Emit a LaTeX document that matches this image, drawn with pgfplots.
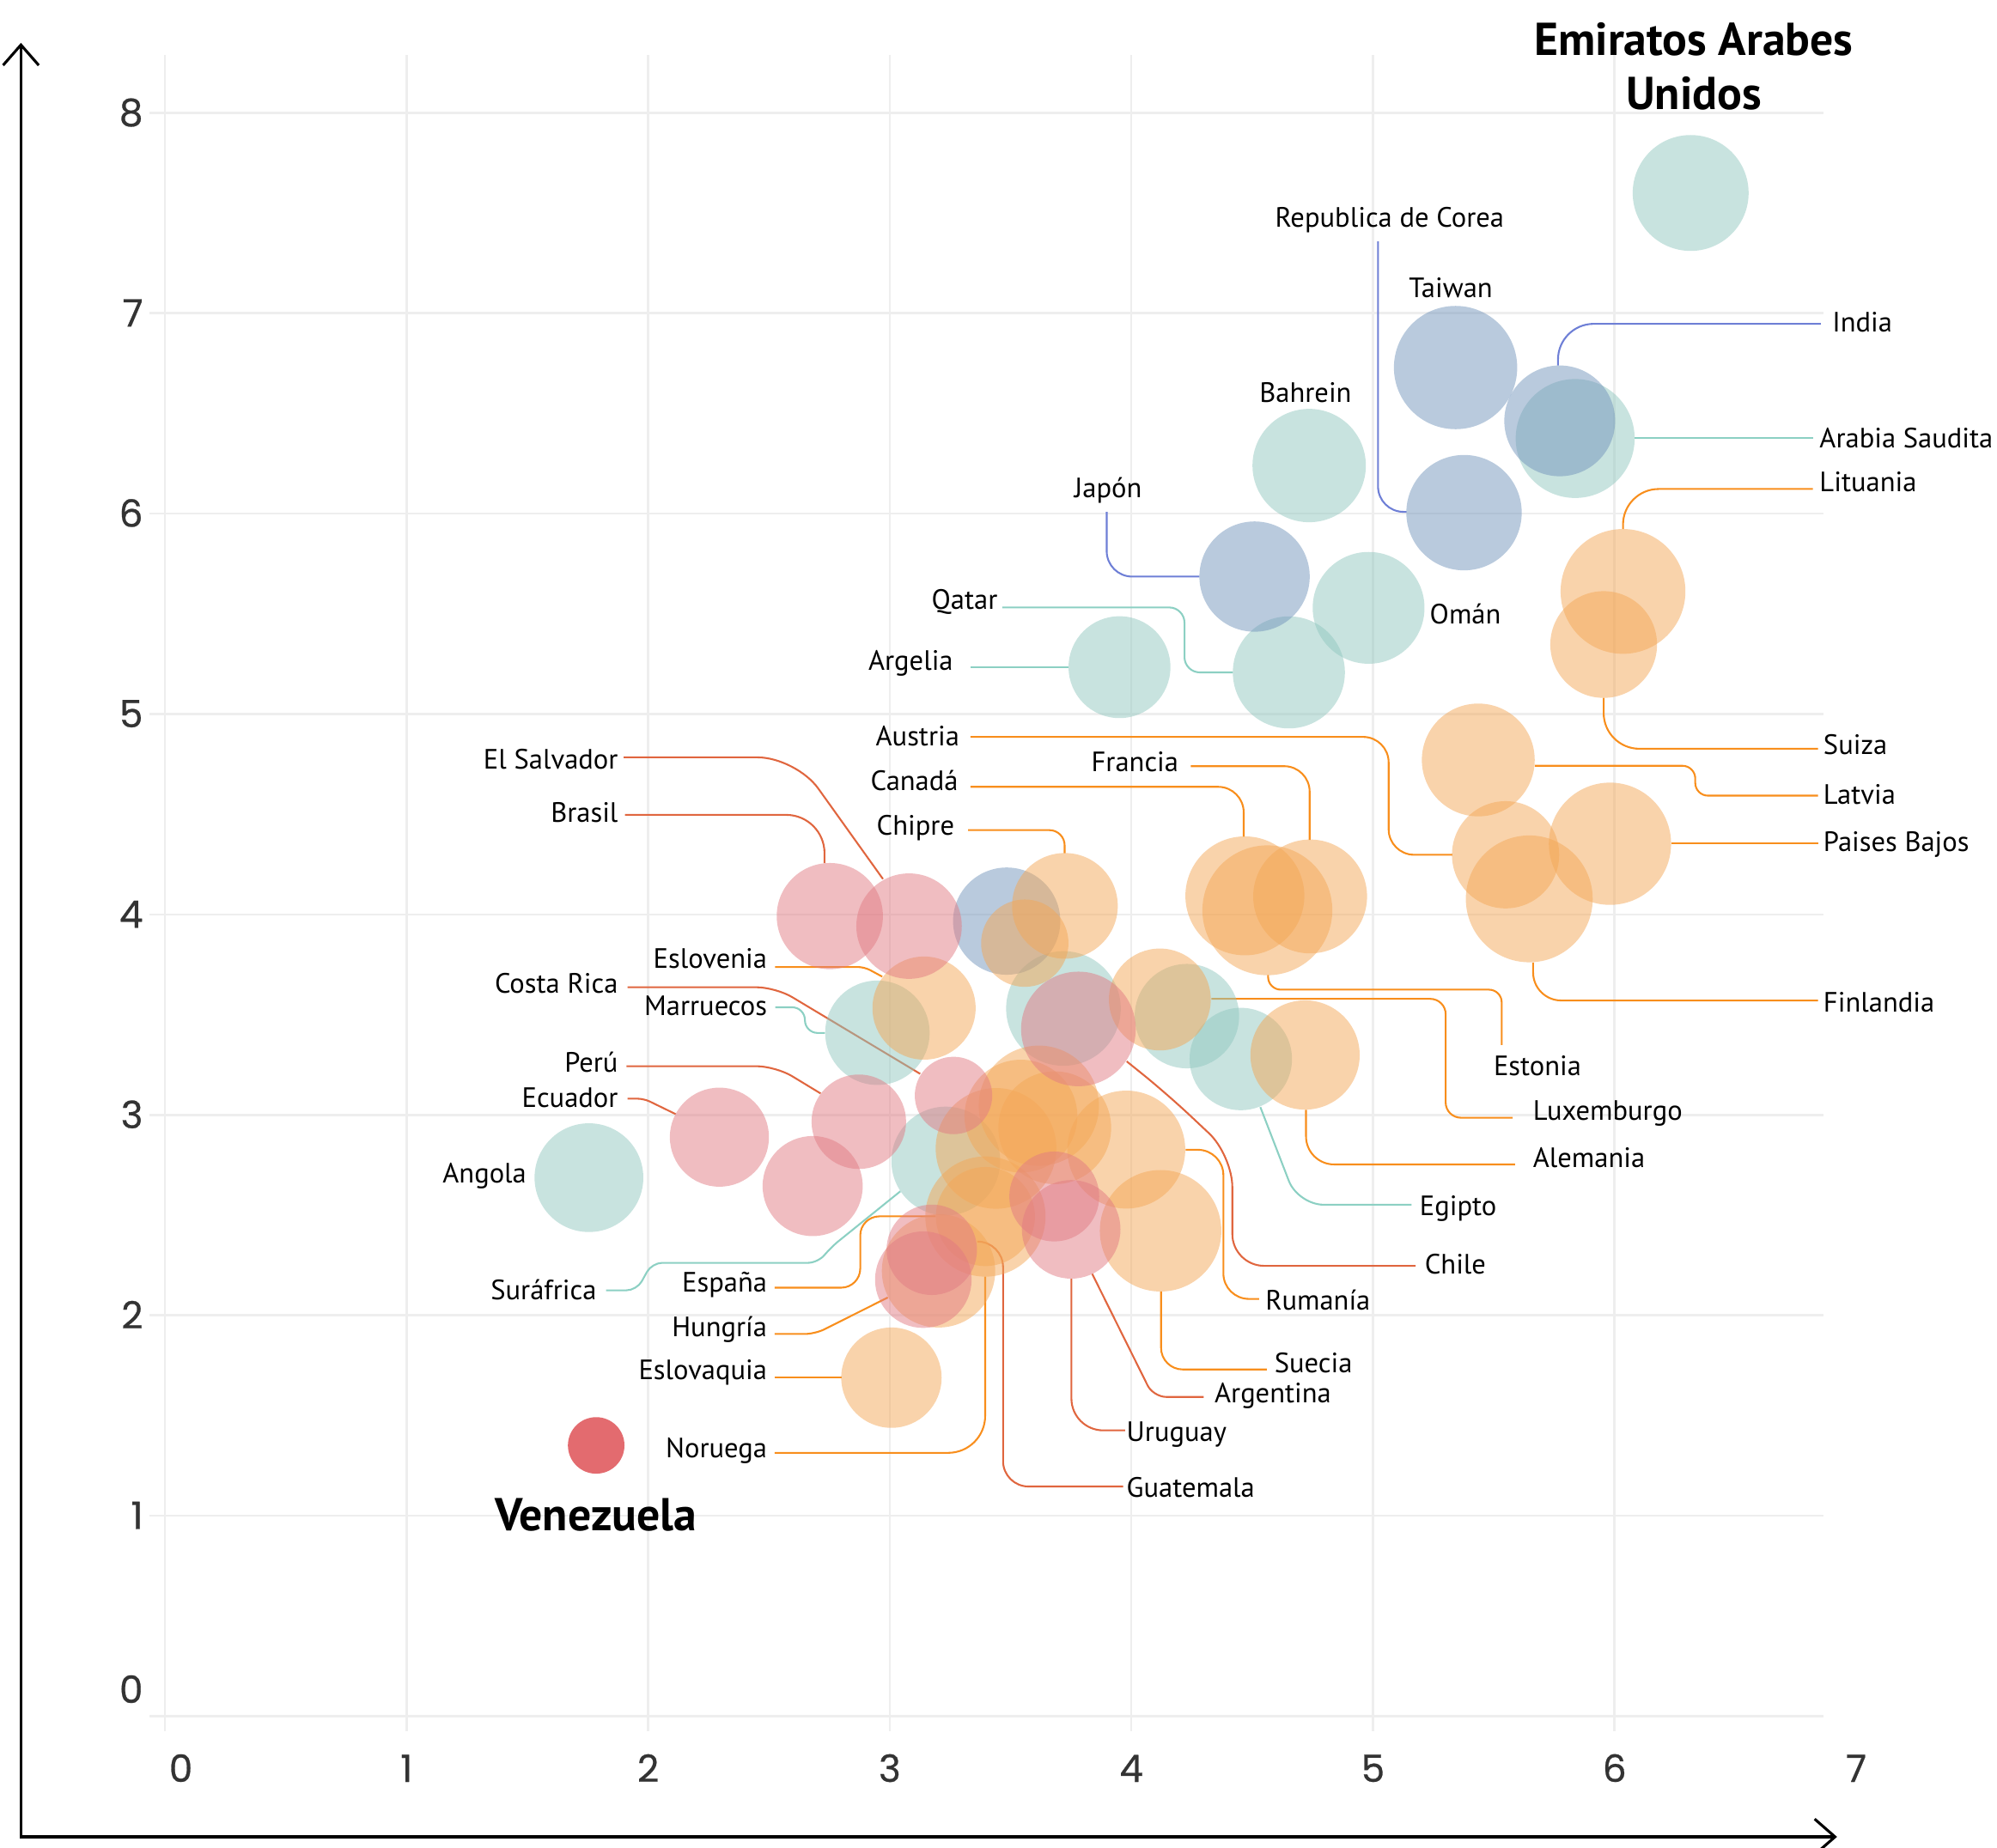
\documentclass[border=0pt]{standalone}
\usepackage{fontspec}
\setmainfont{PT Sans}
\newfontfamily\tickfont{Poppins}[FakeBold=0.6]
\usepackage{pgfplots}
\pgfplotsset{compat=1.18}
\usepackage{pgfplotstable}
\usetikzlibrary{arrows.meta}

\definecolor{tealC}{HTML}{91C7BF}
\definecolor{blueC}{HTML}{7395BB}
\definecolor{orangeC}{HTML}{F3A757}
\definecolor{pinkC}{HTML}{E17B83}
\definecolor{venC}{HTML}{E36B6F}
\definecolor{tealL}{HTML}{8CD0C3}
\definecolor{blueL}{HTML}{6E7FD6}
\definecolor{orangeL}{HTML}{F88E1C}
\definecolor{redL}{HTML}{E0663F}
\definecolor{gridC}{HTML}{EEEEEE}
\definecolor{tickC}{HTML}{333333}

% x, y, radius (in 0.01cm)
\pgfplotstableread{
x y r
6.315 7.600 45.5
5.837 6.375 46.7
4.736 6.240 44.5
4.982 5.530 43.9
4.652 5.208 44.0
3.951 5.234 40.0
2.949 3.410 41.0
1.755 2.687 42.7
4.453 3.279 40.2
4.230 3.493 41.0
3.719 3.531 45.0
3.232 2.770 42.7
}\tealdata

\pgfplotstableread{
x y r
5.342 6.729 48.4
5.773 6.463 43.5
5.377 6.005 45.3
4.510 5.686 43.3
3.484 3.967 42.1
}\bluedata

\pgfplotstableread{
x y r
6.035 5.612 49.0
5.955 5.347 41.9
5.436 4.771 44.3
5.549 4.298 42.1
5.981 4.353 48.0
5.647 4.078 49.8
4.470 4.093 46.7
4.740 4.090 44.7
4.563 4.021 51.0
3.725 4.043 41.5
3.559 3.857 34.3
3.142 3.533 40.5
4.118 3.576 40.0
4.719 3.299 42.9
3.617 3.046 47.2
3.543 2.994 44.3
3.683 2.936 44.3
3.440 2.833 47.4
3.979 2.827 46.3
4.121 2.422 47.7
3.396 2.493 47.2
3.396 2.493 38.9
3.202 2.222 44.5
3.007 1.689 39.4
}\orangedata

\pgfplotstableread{
x y r
2.752 3.992 41.7
3.080 3.942 41.4
3.781 3.429 45.0
3.264 3.097 30.4
2.872 2.966 37.1
2.295 2.889 38.9
2.681 2.645 39.3
3.681 2.593 35.3
3.751 2.429 38.7
3.174 2.327 35.5
3.139 2.178 37.9
}\pinkdata

\pgfplotstableread{
x y r
1.785 1.351 22.2
}\vendata

\pgfplotsset{
  bubble/.style 2 args={scatter, only marks, mark=*,
    point meta=\thisrow{r},
    scatter/use mapped color={draw opacity=0, fill=#1, fill opacity=#2},
    visualization depends on={0.28453*\thisrow{r} \as \rad},
    scatter/@pre marker code/.append style={/tikz/mark size=\rad}},
}
\newcommand{\labfont}{\fontsize{6.25}{7.5}\selectfont}
\tikzset{
  lab/.style={font=\labfont, inner sep=0pt, text height=4.4pt, text depth=0pt, text=black},
  big/.style={font=\bfseries\fontsize{10.3}{12}\selectfont, inner sep=0pt, text height=7pt, text depth=0pt, text=black},
  tick/.style={font=\tickfont\fontsize{8.4}{10}\selectfont, inner sep=0pt, text height=5.9pt, text depth=0pt, text=tickC},
  ld/.style={line width=0.4pt},
}

\begin{document}
\begin{tikzpicture}
\begin{axis}[
  x=1.897cm, y=1.574cm,
  xmin=-0.064, xmax=6.866, ymin=-0.075, ymax=8.29,
  axis line style={draw=none}, tick style={draw=none},
  xtick={0,...,6}, ytick={0,...,8},
  xticklabels={}, yticklabels={},
  grid=major, major grid style={line width=0.5pt, draw=gridC},
  clip=false,
]
\coordinate (bbl) at (axis cs:-0.6826,-0.6557);
\coordinate (btr) at (axis cs:7.583,8.563);

\addplot[bubble={tealC}{0.5}] table {\tealdata};
\addplot[bubble={blueC}{0.5}] table {\bluedata};
\addplot[bubble={orangeC}{0.5}] table {\orangedata};
\addplot[bubble={pinkC}{0.5}] table {\pinkdata};
\addplot[bubble={venC}{1}] table {\vendata};

% leader lines
\draw[blueL, ld, rounded corners=2mm] (axis cs:5.021,7.358) -- (axis cs:5.021,6.009) -- (axis cs:5.139,6.009);
\draw[blueL, ld, rounded corners=2.8mm] (axis cs:6.854,6.947) -- (axis cs:5.766,6.947) -- (axis cs:5.766,6.739);
\draw[blueL, ld, rounded corners=2mm] (axis cs:3.898,6.009) -- (axis cs:3.898,5.686) -- (axis cs:4.282,5.686);

\draw[tealL, ld] (axis cs:6.084,6.376) -- (axis cs:6.822,6.376);
\draw[tealL, ld, rounded corners=1.2mm] (axis cs:3.466,5.532) -- (axis cs:4.220,5.532) -- (axis cs:4.220,5.208) -- (axis cs:4.420,5.208);
\draw[tealL, ld] (axis cs:3.334,5.234) -- (axis cs:3.740,5.234);
\draw[tealL, ld, rounded corners=1mm] (axis cs:2.526,3.537) -- (axis cs:2.649,3.537) -- (axis cs:2.649,3.409) -- (axis cs:2.732,3.409);
\draw[tealL, ld, rounded corners=0.8mm] (axis cs:1.826,2.125) -- (axis cs:1.953,2.125) -- (axis cs:2.016,2.262) -- (axis cs:2.704,2.262) -- (axis cs:2.754,2.337) -- (axis cs:3.044,2.619);
\draw[tealL, ld, rounded corners=2mm] (axis cs:4.534,3.039) -- (axis cs:4.690,2.552) -- (axis cs:5.160,2.552);

\draw[redL, ld, rounded corners=3mm] (axis cs:1.899,4.784) -- (axis cs:2.612,4.784) -- (axis cs:2.972,4.177);
\draw[redL, ld, rounded corners=3mm] (axis cs:1.904,4.497) -- (axis cs:2.730,4.497) -- (axis cs:2.730,4.256);
\draw[redL, ld, rounded corners=1.5mm] (axis cs:1.915,3.637) -- (axis cs:2.528,3.637) -- (axis cs:3.126,3.205);
\draw[redL, ld, rounded corners=1.5mm] (axis cs:1.910,3.243) -- (axis cs:2.528,3.243) -- (axis cs:2.714,3.107);
\draw[redL, ld, rounded corners=0.5mm] (axis cs:1.915,3.081) -- (axis cs:1.983,3.081) -- (axis cs:2.114,3.004);
\draw[redL, ld, rounded corners=2.5mm] (axis cs:3.981,3.267) -- (axis cs:4.146,3.107) -- (axis cs:4.418,2.799) -- (axis cs:4.418,2.247) -- (axis cs:5.177,2.247);
\draw[redL, ld, rounded corners=1mm] (axis cs:3.838,2.207) -- (axis cs:4.091,1.593) -- (axis cs:4.299,1.593);
\draw[redL, ld, rounded corners=2.5mm] (axis cs:3.752,2.182) -- (axis cs:3.752,1.426) -- (axis cs:3.974,1.426);
\draw[redL, ld, rounded corners=2mm] (axis cs:3.363,2.368) -- (axis cs:3.469,2.368) -- (axis cs:3.469,1.146) -- (axis cs:3.966,1.146);

\draw[orangeL, ld, rounded corners=2.8mm] (axis cs:6.821,6.123) -- (axis cs:6.035,6.123) -- (axis cs:6.035,5.923);
\draw[orangeL, ld, rounded corners=2.8mm] (axis cs:5.955,5.081) -- (axis cs:5.955,4.827) -- (axis cs:6.842,4.827);
\draw[orangeL, ld, rounded corners=1mm] (axis cs:5.670,4.742) -- (axis cs:6.334,4.742) -- (axis cs:6.334,4.593) -- (axis cs:6.842,4.593);
\draw[orangeL, ld] (axis cs:6.235,4.354) -- (axis cs:6.842,4.354);
\draw[orangeL, ld, rounded corners=2.2mm] (axis cs:5.663,3.760) -- (axis cs:5.663,3.571) -- (axis cs:6.842,3.571);
\draw[orangeL, ld, rounded corners=2mm] (axis cs:3.334,4.886) -- (axis cs:5.065,4.886) -- (axis cs:5.065,4.298) -- (axis cs:5.329,4.298);
\draw[orangeL, ld, rounded corners=2mm] (axis cs:3.334,4.637) -- (axis cs:4.465,4.637) -- (axis cs:4.465,4.388);
\draw[orangeL, ld, rounded corners=2mm] (axis cs:4.246,4.740) -- (axis cs:4.738,4.740) -- (axis cs:4.738,4.372);
\draw[orangeL, ld, rounded corners=1.2mm] (axis cs:3.324,4.421) -- (axis cs:3.724,4.421) -- (axis cs:3.724,4.306);
\draw[orangeL, ld, rounded corners=1mm] (axis cs:4.566,3.698) -- (axis cs:4.566,3.625) -- (axis cs:5.533,3.625) -- (axis cs:5.533,3.349);
\draw[orangeL, ld, rounded corners=1.2mm] (axis cs:4.331,3.579) -- (axis cs:5.301,3.579) -- (axis cs:5.301,2.986) -- (axis cs:5.578,2.986);
\draw[orangeL, ld, rounded corners=2.2mm] (axis cs:4.723,3.025) -- (axis cs:4.723,2.753) -- (axis cs:5.588,2.753);
\draw[orangeL, ld, rounded corners=2mm] (axis cs:4.225,2.826) -- (axis cs:4.381,2.826) -- (axis cs:4.381,2.082) -- (axis cs:4.529,2.082);
\draw[orangeL, ld, rounded corners=1.7mm] (axis cs:4.123,2.119) -- (axis cs:4.123,1.730) -- (axis cs:4.561,1.730);
\draw[orangeL, ld, rounded corners=0.5mm] (axis cs:2.525,3.738) -- (axis cs:2.895,3.738) -- (axis cs:2.969,3.690);
\draw[orangeL, ld, rounded corners=1.5mm] (axis cs:2.524,2.138) -- (axis cs:2.878,2.138) -- (axis cs:2.878,2.494) -- (axis cs:3.190,2.494);
\draw[orangeL, ld, rounded corners=0.8mm] (axis cs:2.524,1.907) -- (axis cs:2.691,1.907) -- (axis cs:2.992,2.089);
\draw[orangeL, ld] (axis cs:2.524,1.689) -- (axis cs:2.800,1.689);
\draw[orangeL, ld, rounded corners=2.9mm] (axis cs:2.524,1.314) -- (axis cs:3.395,1.314) -- (axis cs:3.395,2.193);

% labels
\node[big] at (axis cs:6.328,8.366) {Emiratos Arabes};
\node[big] at (axis cs:6.328,8.093) {Unidos};
\node[big] at (axis cs:1.784,1.003) {Venezuela};

\node[lab] at (axis cs:5.069,7.477) {Republica de Corea};
\node[lab] at (axis cs:5.322,7.127) {Taiwan};
\node[lab] at (axis cs:4.721,6.606) {Bahrein};
\node[lab] at (axis cs:3.904,6.130) {Japón};

\node[lab, anchor=west] at (axis cs:6.898,6.956) {India};
\node[lab, anchor=west] at (axis cs:6.845,6.377) {Arabia Saudita};
\node[lab, anchor=west] at (axis cs:6.845,6.161) {Lituania};
\node[lab, anchor=west] at (axis cs:6.861,4.846) {Suiza};
\node[lab, anchor=west] at (axis cs:6.861,4.598) {Latvia};
\node[lab, anchor=west] at (axis cs:6.861,4.363) {Paises Bajos};
\node[lab, anchor=west] at (axis cs:6.861,3.563) {Finlandia};
\node[lab, anchor=west] at (axis cs:5.496,3.245) {Estonia};
\node[lab, anchor=west] at (axis cs:5.659,3.023) {Luxemburgo};
\node[lab, anchor=west] at (axis cs:5.659,2.788) {Alemania};
\node[lab, anchor=west] at (axis cs:5.190,2.546) {Egipto};
\node[lab, anchor=west] at (axis cs:5.211,2.254) {Chile};
\node[lab, anchor=west] at (axis cs:4.552,2.076) {Rumanía};
\node[lab, anchor=west] at (axis cs:4.589,1.765) {Suecia};
\node[lab, anchor=west] at (axis cs:4.341,1.612) {Argentina};
\node[lab, anchor=west] at (axis cs:3.977,1.422) {Uruguay};
\node[lab, anchor=west] at (axis cs:3.977,1.142) {Guatemala};
\node[lab, anchor=west] at (axis cs:5.232,5.501) {Omán};

\node[lab, anchor=east] at (axis cs:3.450,5.571) {Qatar};
\node[lab, anchor=east] at (axis cs:3.266,5.266) {Argelia};
\node[lab, anchor=east] at (axis cs:3.292,4.891) {Austria};
\node[lab, anchor=east] at (axis cs:4.199,4.764) {Francia};
\node[lab, anchor=east] at (axis cs:3.287,4.668) {Canadá};
\node[lab, anchor=east] at (axis cs:3.271,4.446) {Chipre};
\node[lab, anchor=east] at (axis cs:1.879,4.776) {El Salvador};
\node[lab, anchor=east] at (axis cs:1.879,4.510) {Brasil};
\node[lab, anchor=east] at (axis cs:2.496,3.779) {Eslovenia};
\node[lab, anchor=east] at (axis cs:1.879,3.658) {Costa Rica};
\node[lab, anchor=east] at (axis cs:2.496,3.544) {Marruecos};
\node[lab, anchor=east] at (axis cs:1.879,3.264) {Perú};
\node[lab, anchor=east] at (axis cs:1.879,3.086) {Ecuador};
\node[lab, anchor=east] at (axis cs:1.500,2.712) {Angola};
\node[lab, anchor=east] at (axis cs:1.790,2.127) {Suráfrica};
\node[lab, anchor=east] at (axis cs:2.496,2.165) {España};
\node[lab, anchor=east] at (axis cs:2.496,1.943) {Hungría};
\node[lab, anchor=east] at (axis cs:2.496,1.727) {Eslovaquia};
\node[lab, anchor=east] at (axis cs:2.496,1.339) {Noruega};

% tick labels
\node[tick] at (axis cs:0.066,-0.262) {0};
\pgfplotsinvokeforeach{1,...,7}{\node[tick] at (axis cs:#1,-0.262) {#1};}
\node[tick, anchor=east] at (axis cs:-0.087,0.132) {0};
\pgfplotsinvokeforeach{1,...,8}{\node[tick, anchor=east] at (axis cs:-0.087,#1) {#1};}

% axis arrows
\draw[line width=0.6pt, line join=miter, {Straight Barb[length=1.6mm, width=2.8mm]}-{Straight Barb[length=1.6mm, width=2.8mm]}]
  (axis cs:6.921,-0.602) -- (axis cs:-0.596,-0.602) -- (axis cs:-0.596,8.349);
\end{axis}
\pgfresetboundingbox
\path[use as bounding box] (bbl) rectangle (btr);
\end{tikzpicture}
\end{document}
